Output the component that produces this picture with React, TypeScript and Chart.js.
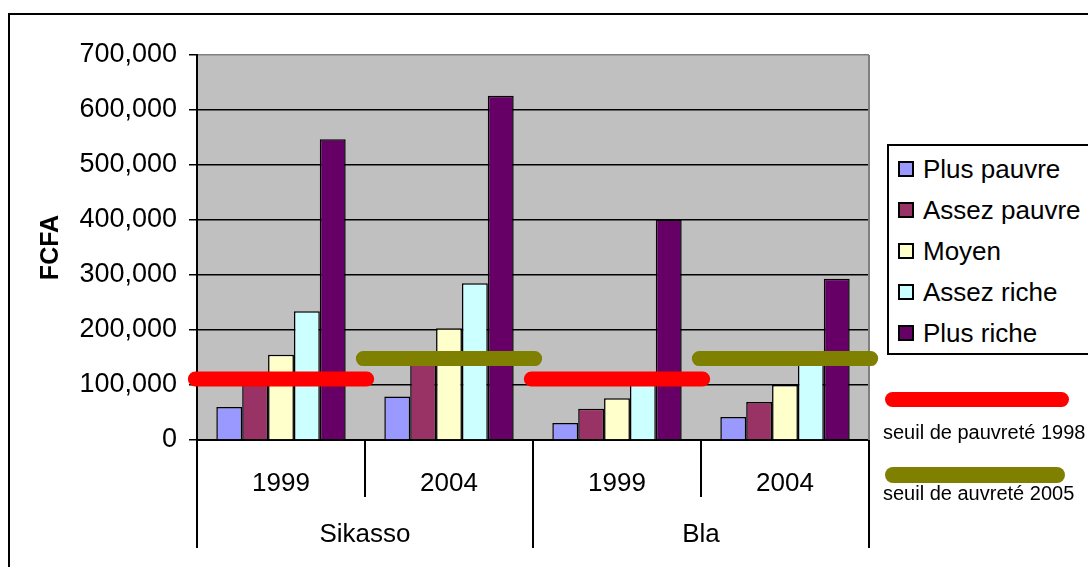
import React, { useEffect, useRef } from 'react';
import { Chart, registerables } from 'chart.js';

Chart.register(...registerables);

// ---- Data ----
const categories = ['1999', '2004', '1999', '2004'];
const regions = ['Sikasso', 'Bla'];
const seriesNames = ['Plus pauvre', 'Assez pauvre', 'Moyen', 'Assez riche', 'Plus riche'];
const plusPauvre = [60000, 79000, 31000, 42000];
const assezPauvre = [110000, 145000, 57000, 69000];
const moyen = [155000, 203000, 76000, 100000];
const assezRiche = [234000, 285000, 110000, 145000];
const plusRiche = [547000, 626000, 401000, 293000];
const yTickValues = [0, 100000, 200000, 300000, 400000, 500000, 600000, 700000];
const seuilNames = ['seuil de pauvreté 1998', 'seuil de auvreté 2005'];
const seuil1998 = 111000;
const seuil2005 = 148000;
const seuil1998Categories = [0, 2];
const seuil2005Categories = [1, 3];

// ---- Styles ----
const FONT = "'Liberation Sans', Arial, Helvetica, sans-serif";
const seriesColors = ['#9999FF', '#993366', '#FFFFCC', '#CCFFFF', '#660066'];
const seuilColors = ['#FF0000', '#808000'];
const SEGMENT_HALF = 0.51;

function segmentData(cats: number[], value: number) {
  const out: { x: number; y: number | null }[] = [];
  cats.forEach((c) => {
    out.push({ x: c - SEGMENT_HALF, y: value });
    out.push({ x: c + SEGMENT_HALF, y: value });
    out.push({ x: c + 0.75, y: null });
  });
  return out;
}

function fmt(v: number) {
  return String(Math.round(v)).replace(/\B(?=(\d{3})+(?!\d))/g, ',');
}

const plotPlugin = {
  id: 'plotDecor',
  beforeDraw(chart: any) {
    const { ctx, chartArea } = chart;
    ctx.save();
    ctx.fillStyle = '#C0C0C0';
    ctx.fillRect(chartArea.left, chartArea.top, chartArea.right - chartArea.left, chartArea.bottom - chartArea.top);
    ctx.restore();
  },
  beforeDatasetsDraw(chart: any) {
    const { ctx, chartArea } = chart;
    ctx.save();
    ctx.strokeStyle = '#808080';
    ctx.lineWidth = 2;
    ctx.beginPath();
    ctx.moveTo(chartArea.right, chartArea.top);
    ctx.lineTo(chartArea.right, chartArea.bottom);
    ctx.stroke();
    ctx.restore();
  },
  afterDraw(chart: any) {
    const { ctx } = chart;
    const xs = chart.scales.x;
    const n = categories.length;
    const top = xs.top;
    ctx.save();
    ctx.strokeStyle = '#000';
    ctx.lineWidth = 2;
    for (let i = 0; i <= n; i++) {
      const x = xs.getPixelForValue(i - 0.5);
      const len = i % 2 === 0 ? 108 : 57;
      ctx.beginPath();
      ctx.moveTo(x, top);
      ctx.lineTo(x, top + len);
      ctx.stroke();
    }
    ctx.fillStyle = '#000';
    ctx.font = `26px ${FONT}`;
    ctx.textAlign = 'center';
    ctx.textBaseline = 'middle';
    regions.forEach((r, k) => {
      const cx = xs.getPixelForValue(2 * k + 0.5);
      ctx.fillText(r, cx, top + 95);
    });
    ctx.restore();
  },
};

export default function App() {
  const canvasRef = useRef<HTMLCanvasElement | null>(null);

  useEffect(() => {
    const canvas = canvasRef.current;
    if (!canvas) return;
    const seriesData = [plusPauvre, assezPauvre, moyen, assezRiche, plusRiche];
    const barSets = seriesNames.map((name, i) => ({
      type: 'bar' as const,
      label: name,
      data: seriesData[i].map((v, k) => ({ x: k, y: v })),
      backgroundColor: seriesColors[i],
      borderColor: '#000',
      borderWidth: 1.5,
      categoryPercentage: 0.77,
      barPercentage: 1.0,
      xAxisID: 'x',
      yAxisID: 'y',
    }));
    const lineSets = [
      { label: seuilNames[0], data: segmentData(seuil1998Categories, seuil1998), color: seuilColors[0] },
      { label: seuilNames[1], data: segmentData(seuil2005Categories, seuil2005), color: seuilColors[1] },
    ].map((s) => ({
      type: 'line' as const,
      label: s.label,
      data: s.data,
      borderColor: s.color,
      backgroundColor: s.color,
      borderWidth: 15,
      borderCapStyle: 'round',
      pointRadius: 0,
      spanGaps: false,
      clip: false,
      fill: false,
      xAxisID: 'x',
      yAxisID: 'y',
      order: -1,
    }));

    const chart = new Chart(canvas, {
      type: 'bar',
      data: { datasets: [...barSets, ...lineSets] as any },
      options: {
        responsive: false,
        animation: false,
        events: [],
        layout: { padding: { left: 0, top: 55, right: 219, bottom: 0 } },
        plugins: { legend: { display: false }, tooltip: { enabled: false }, title: { display: false } },
        scales: {
          x: {
            type: 'linear',
            position: 'bottom',
            offset: false,
            min: -0.5,
            max: 3.5,
            afterBuildTicks: (s: any) => { s.ticks = categories.map((_, k) => ({ value: k })); },
            grid: { display: false, drawTicks: false, offset: false },
            border: { display: true, color: '#000', width: 2 },
            ticks: {
              color: '#000',
              font: { family: FONT, size: 26 },
              padding: 28,
              autoSkip: false,
              maxRotation: 0,
              callback: (v: any) => categories[Math.round(Number(v))] ?? '',
            },
            afterFit: (s: any) => { s.height = 127; },
          },
          y: {
            type: 'linear',
            position: 'left',
            min: 0,
            max: 700000,
            afterBuildTicks: (s: any) => { s.ticks = yTickValues.map((v) => ({ value: v })); },
            grid: {
              color: (c: any) => (c.tick && c.tick.value === 700000 ? '#808080' : '#000'),
              tickColor: '#000',
              lineWidth: 1.5,
              tickLength: 8,
              drawTicks: true,
            },
            border: { display: true, color: '#000', width: 2 },
            ticks: {
              color: '#000',
              font: { family: FONT, size: 27 },
              padding: 12,
              callback: (v: any) => fmt(Number(v)),
            },
            title: {
              display: true,
              text: 'FCFA',
              color: '#000',
              font: { family: FONT, size: 25, weight: 'bold' },
              padding: { top: 36, bottom: 0 },
            },
            afterFit: (s: any) => { s.width = 197; },
          },
        },
      } as any,
      plugins: [plotPlugin],
    });
    return () => chart.destroy();
  }, []);

  const legendTop = 169;
  const legendStep = 41;

  return (
    <div style={{ position: 'fixed', left: 0, top: 0, width: 1088, height: 567, overflow: 'hidden', background: '#fff', fontFamily: FONT }}>
      <div style={{ position: 'absolute', left: 8, top: 13, width: 1200, height: 700, borderLeft: '2px solid #000', borderTop: '2px solid #000' }} />
      <canvas ref={canvasRef} width={1088} height={567} style={{ position: 'absolute', left: 0, top: 0, width: 1088, height: 567 }} />
      <div style={{ position: 'absolute', left: 887, top: 144, width: 260, height: 207, border: '2px solid #000', background: '#fff' }} />
      {seriesNames.map((name, i) => (
        <div key={name} style={{ position: 'absolute', left: 898, top: legendTop + i * legendStep - 16, height: 32, display: 'flex', alignItems: 'center', whiteSpace: 'nowrap' }}>
          <span style={{ display: 'inline-block', width: 12, height: 12, background: seriesColors[i], border: '2px solid #000', marginRight: 9 }} />
          <span style={{ fontSize: 26, color: '#000', lineHeight: '32px' }}>{name}</span>
        </div>
      ))}
      <div style={{ position: 'absolute', left: 885, top: 392, width: 184, height: 15, borderRadius: 8, background: seuilColors[0] }} />
      <div style={{ position: 'absolute', left: 883, top: 420, fontSize: 20, lineHeight: '24px', whiteSpace: 'nowrap', color: '#000' }}>{seuilNames[0]}</div>
      <div style={{ position: 'absolute', left: 885, top: 467, width: 180, height: 16, borderRadius: 8, background: seuilColors[1] }} />
      <div style={{ position: 'absolute', left: 883, top: 481, fontSize: 20, lineHeight: '24px', whiteSpace: 'nowrap', color: '#000' }}>{seuilNames[1]}</div>
    </div>
  );
}
